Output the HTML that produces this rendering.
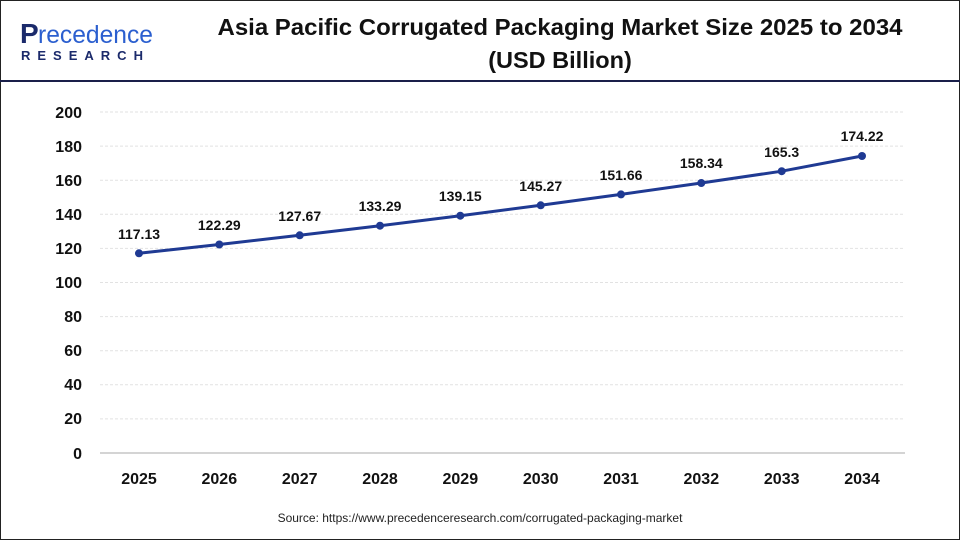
<!DOCTYPE html>
<html><head><meta charset="utf-8"><style>
body{margin:0;width:960px;height:540px;background:#fff;overflow:hidden;font-family:"Liberation Sans",Arial,sans-serif}
</style></head><body>
<svg width="960" height="540" xmlns="http://www.w3.org/2000/svg" font-family="Liberation Sans, Arial, sans-serif">
<rect x="0.5" y="0.5" width="959" height="539" fill="#fff" stroke="#222" stroke-width="1"/>
<line x1="0" y1="81" x2="960" y2="81" stroke="#1a1f4a" stroke-width="2"/>
<text x="20" y="43" font-size="28" fill="#1b2a6b" font-weight="bold">P</text>
<text x="38" y="43" font-size="25" fill="#2b5fcf" textLength="115" lengthAdjust="spacingAndGlyphs">recedence</text>
<text x="21" y="60" font-size="13" fill="#1b2a6b" font-weight="bold" letter-spacing="7">RESEARCH</text>
<text x="560" y="35" font-size="23.5" font-weight="bold" text-anchor="middle" fill="#111" textLength="685" lengthAdjust="spacingAndGlyphs">Asia Pacific Corrugated Packaging Market Size 2025 to 2034</text>
<text x="560" y="68" font-size="23.5" font-weight="bold" text-anchor="middle" fill="#111">(USD Billion)</text>
<g stroke="#e2e2e2" stroke-width="1" stroke-dasharray="3,2">
<line x1="100" x2="905" y1="112" y2="112"/><line x1="100" x2="905" y1="146.1" y2="146.1"/><line x1="100" x2="905" y1="180.2" y2="180.2"/><line x1="100" x2="905" y1="214.3" y2="214.3"/><line x1="100" x2="905" y1="248.4" y2="248.4"/><line x1="100" x2="905" y1="282.5" y2="282.5"/><line x1="100" x2="905" y1="316.6" y2="316.6"/><line x1="100" x2="905" y1="350.7" y2="350.7"/><line x1="100" x2="905" y1="384.8" y2="384.8"/><line x1="100" x2="905" y1="418.9" y2="418.9"/>
</g>
<line x1="100" x2="905" y1="453" y2="453" stroke="#aaa"/>
<g font-size="16" font-weight="bold" fill="#111" text-anchor="end">
<text x="82" y="118">200</text><text x="82" y="152">180</text><text x="82" y="186">160</text><text x="82" y="220">140</text><text x="82" y="254">120</text><text x="82" y="288">100</text><text x="82" y="322">80</text><text x="82" y="356">60</text><text x="82" y="390">40</text><text x="82" y="424">20</text><text x="82" y="459">0</text>
</g>
<g font-size="16" font-weight="bold" fill="#111" text-anchor="middle">
<text x="139" y="484">2025</text><text x="219.3" y="484">2026</text><text x="299.7" y="484">2027</text><text x="380" y="484">2028</text><text x="460.3" y="484">2029</text><text x="540.7" y="484">2030</text><text x="621" y="484">2031</text><text x="701.3" y="484">2032</text><text x="781.7" y="484">2033</text><text x="862" y="484">2034</text>
</g>
<polyline fill="none" stroke="#1f3a93" stroke-width="3" points="139,253.3 219.3,244.5 299.7,235.3 380,225.7 460.3,215.7 540.7,205.3 621,194.4 701.3,183 781.7,171.2 862,156"/>
<g fill="#1f3a93">
<circle cx="139" cy="253.3" r="4"/><circle cx="219.3" cy="244.5" r="4"/><circle cx="299.7" cy="235.3" r="4"/><circle cx="380" cy="225.7" r="4"/><circle cx="460.3" cy="215.7" r="4"/><circle cx="540.7" cy="205.3" r="4"/><circle cx="621" cy="194.4" r="4"/><circle cx="701.3" cy="183" r="4"/><circle cx="781.7" cy="171.2" r="4"/><circle cx="862" cy="156" r="4"/>
</g>
<g font-size="14" font-weight="bold" fill="#111" text-anchor="middle">
<text x="139" y="239">117.13</text><text x="219.3" y="230">122.29</text><text x="299.7" y="221">127.67</text><text x="380" y="211">133.29</text><text x="460.3" y="201">139.15</text><text x="540.7" y="191">145.27</text><text x="621" y="180">151.66</text><text x="701.3" y="168">158.34</text><text x="781.7" y="157">165.3</text><text x="862" y="141">174.22</text>
</g>
<text x="480" y="522" font-size="12" fill="#222" text-anchor="middle">Source: https://www.precedenceresearch.com/corrugated-packaging-market</text>
</svg>
</body></html>
